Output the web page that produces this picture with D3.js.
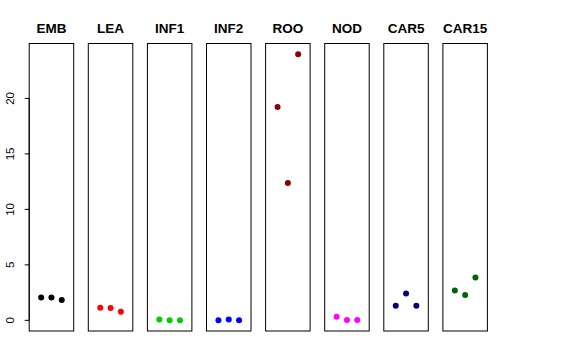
<!DOCTYPE html>
<html>
<head>
<meta charset="utf-8">
<script src="https://cdn.jsdelivr.net/npm/d3@7"></script>
<style>
  body { margin: 0; background: #fff; }
  svg { display: block; font-family: 'Liberation Sans', Arial, sans-serif; }
</style>
</head>
<body>
<div id="chart"></div>
<script>
// tissues shown as small panels, three replicates each
let tissues = [ 'EMB', 'LEA', 'INF1', 'INF2', 'ROO', 'NOD', 'CAR5', 'CAR15' ]
let colors = [ '#000000', '#ff0000', '#00cd00', '#0000ff', '#8b0000', '#ff00ff', '#000080', '#006400' ]
let rep1 = [ 2.05, 1.14, 0.08, 0.0, 19.22, 0.32, 1.32, 2.70 ]
let rep2 = [ 2.07, 1.11, 0.0, 0.07, 12.37, 0.04, 2.43, 2.28 ]
let rep3 = [ 1.83, 0.78, 0.0, 0.0, 23.99, 0.03, 1.32, 3.87 ]
let yTicks = [ 0, 5, 10, 15, 20 ]

let width = 576
let height = 360
let panelW = 44.5
let panelStep = 59.1
let plotTop = 43.5
let plotBottom = 331

let svg = d3.select('#chart').append('svg')
  .attr('width', width)
  .attr('height', height)

// R style 4% padding on both scales
let yMin = d3.min(rep1.concat(rep2, rep3))
let yMax = d3.max(rep1.concat(rep2, rep3))
let yPad = (yMax - yMin) * 0.04
let y = d3.scaleLinear().domain([ yMin - yPad, yMax + yPad ]).range([ plotBottom, plotTop ])

let panels = tissues.map((t, i) => ({
  name: t,
  color: colors[ i ],
  values: [ rep1[ i ], rep2[ i ], rep3[ i ] ],
  x0: 29.2 + i * panelStep
}))

panels.forEach((p, i) => {
  let x = d3.scaleLinear().domain([ -0.16, 4.16 ]).range([ p.x0, p.x0 + panelW ])
  let g = svg.append('g').attr('class', 'panel')

  g.append('rect')
    .attr('x', p.x0)
    .attr('y', plotTop)
    .attr('width', panelW)
    .attr('height', plotBottom - plotTop)
    .attr('fill', 'none')
    .attr('stroke', '#000')
    .attr('stroke-width', 1)

  g.append('text')
    .attr('x', p.x0 + panelW / 2)
    .attr('y', 33)
    .attr('text-anchor', 'middle')
    .attr('font-weight', 'bold')
    .attr('font-size', 13.5)
    .text(p.name)

  g.selectAll('circle')
    .data(p.values)
    .enter()
    .append('circle')
    .attr('cx', (d, j) => x(j + 1))
    .attr('cy', d => y(d))
    .attr('r', 3)
    .attr('fill', p.color)

  if (i === 0) {
    let axis = d3.axisLeft(y).tickValues(yTicks).tickSize(4.5).tickPadding(8)
    let ax = g.append('g')
      .attr('transform', 'translate(' + p.x0 + ',0)')
      .call(axis)
    ax.select('.domain')
      .attr('d', 'M0,' + y(0) + 'V' + y(20))
      .attr('stroke', '#000')
    ax.selectAll('.tick').attr('transform', null)
    ax.selectAll('.tick line')
      .attr('y1', d => y(d))
      .attr('y2', d => y(d))
      .attr('x2', -4.5)
    ax.selectAll('.tick text')
      .attr('font-size', 11.5)
      .attr('font-family', "'Liberation Sans', Arial, sans-serif")
      .attr('fill', '#000')
      .attr('x', -19)
      .attr('y', d => y(d))
      .attr('dy', '0.35em')
      .attr('text-anchor', 'middle')
      .attr('transform', d => 'rotate(-90,-19,' + y(d) + ')')
  }
})
</script>
</body>
</html>
